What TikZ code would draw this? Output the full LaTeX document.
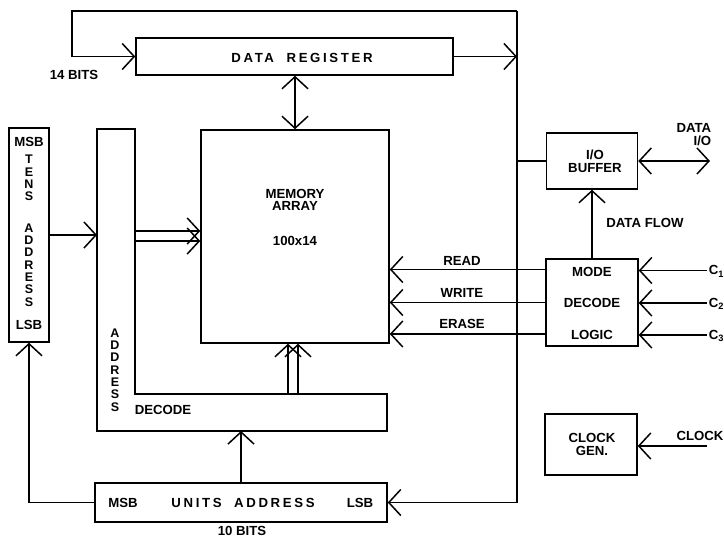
\documentclass[tikz,border=0pt]{standalone}
\usepackage{fontspec}
\setmainfont{Liberation Sans}
\usetikzlibrary{arrows.meta,calc}
\begin{document}
\begin{tikzpicture}[x=1pt,y=-1pt,line width=1.5pt,
  lbl/.style={font=\fontsize{13.2}{12.5}\selectfont\bfseries, inner sep=0pt, align=center},
  vlbl/.style={font=\fontsize{12.5}{12.3}\selectfont\bfseries, inner sep=0pt, align=center},
  sp/.style={font=\fontsize{13.2}{12.5}\selectfont\bfseries\addfontfeature{LetterSpace=20}, inner sep=0pt},
  blk/.style={draw, inner sep=0pt},
  arr/.style={-{Straight Barb[length=12pt,width=26pt,line width=1.5pt]}},
  darr/.style={{Straight Barb[length=12pt,width=26pt,line width=1.5pt]}-{Straight Barb[length=12pt,width=26pt,line width=1.5pt]}}]
\useasboundingbox (0,0) rectangle (724,538);

% blocks
\node[blk, minimum width=317pt, minimum height=37pt] (dreg) at (294.5,56.5) {};
\node[blk, minimum width=188pt, minimum height=213pt] (mem) at (295,236.5) {};
\node[blk, minimum width=40pt, minimum height=214pt] (tens) at (29,235) {};
\node[blk, minimum width=292pt, minimum height=39pt] (units) at (241,502.5) {};
\node[blk, minimum width=91pt, minimum height=56pt] (iobuf) at (592,161) {};
\node[blk, minimum width=92pt, minimum height=87pt] (mode) at (592,302.5) {};
\node[blk, minimum width=92pt, minimum height=61pt] (clock) at (591,444.5) {};

% address decode L-shape
\coordinate (dnw) at (97,129);
\coordinate (dne) at (135,129);
\coordinate (din) at (135,394);
\coordinate (dre) at (387,394);
\coordinate (dse) at (387,431);
\coordinate (dsw) at (97,431);
\draw (dnw) -- (dne) -- (din) -- (dre) -- (dse) -- (dsw) -- cycle;

% bus and loop
\coordinate (bustop) at (517,11);
\coordinate (loopL) at (72,11);
\draw[arr] (bustop) -- (loopL) |- (dreg.west);
\draw[arr] (dreg.east) -- (dreg.east -| bustop);
\draw[arr] (bustop) -- (bustop |- units.east) -- (units.east);
\draw (bustop |- iobuf.west) -- (iobuf.west);
\coordinate (dataio) at (710,161);
\draw[darr] (iobuf.east) -- (dataio);
\draw[darr] (mem.north |- dreg.south) -- (mem.north);

% address paths
\draw[arr] (tens.east) -- (tens.east -| dnw);
\coordinate (m1) at ($(mem.west)+(0,-5.5)$);
\coordinate (m2) at ($(mem.west)+(0,4.5)$);
\draw[arr] (m1 -| din) -- (m1);
\draw[arr] (m2 -| din) -- (m2);
\coordinate (mb1) at ($(mem.south)+(-7,0)$);
\coordinate (mb2) at ($(mem.south)+(3,0)$);
\draw[arr] (mb1 |- din) -- (mb1);
\draw[arr] (mb2 |- din) -- (mb2);
\draw[arr] (units.north) -- (units.north |- dsw);
\draw[arr] (units.west) -| (tens.south);

% mode decode logic
\draw[arr] (mode.north) -- (iobuf.south);
\coordinate (r1) at ($(mode.west)+(0,-33)$);
\coordinate (r2) at ($(mode.west)+(0,0)$);
\coordinate (r3) at ($(mode.west)+(0,31.5)$);
\draw[arr] (r1) -- (r1 -| mem.east);
\draw[arr] (r2) -- (r2 -| mem.east);
\draw[arr] (r3) -- (r3 -| mem.east);
\coordinate (c1) at (707,270.5);
\coordinate (c2) at (707,303);
\coordinate (c3) at (707,335);
\draw[arr] (c1) -- (c1 -| mode.east);
\draw[arr] (c2) -- (c2 -| mode.east);
\draw[arr] (c3) -- (c3 -| mode.east);
\coordinate (clkin) at (707,446);
\draw[arr] (clkin) -- (clkin -| clock.east);

% labels
\node[sp] (tdreg) at (302,58) {DATA\ \ REGISTER};
\node[lbl] (t14) at (74,75) {14 BITS};
\node[lbl] (tmem) at (295,200) {MEMORY\\ARRAY};
\node[lbl] (tsize) at (295,241) {100x14};
\node[lbl] (tmsb1) at (29,142) {MSB};
\node[vlbl] (ttens) at (29,178) {T\\E\\N\\S};
\node[vlbl] (taddr1) at (29,265) {A\\D\\D\\R\\E\\S\\S};
\node[lbl] (tlsb1) at (29,325) {LSB};
\node[vlbl] (taddr2) at (115,370) {A\\D\\D\\R\\E\\S\\S};
\node[lbl] (tdec) at (163,410) {DECODE};
\node[lbl] (tmsb2) at (123,503) {MSB};
\node[sp] (tunits) at (243,503) {UNITS\ \ ADDRESS};
\node[lbl] (tlsb2) at (360,503) {LSB};
\node[lbl] (t10) at (242,531) {10 BITS};
\node[lbl] (tio) at (595,161.5) {I/O\\BUFFER};
\node[lbl, align=right, anchor=east] (tdio) at (712,134.5) {DATA\\I/O};
\node[lbl] (tflow) at (645,223) {DATA FLOW};
\node[lbl] (tmode) at (592,272) {MODE};
\node[lbl] (tdecode) at (592,303) {DECODE};
\node[lbl] (tlogic) at (592,335) {LOGIC};
\node[lbl] (tread) at (462,261) {READ};
\node[lbl] (twrite) at (462,293) {WRITE};
\node[lbl] (terase) at (462,324) {ERASE};
\node[lbl, anchor=west] (tc1) at ($(c1)+(1,1)$) {C\textsubscript{1}};
\node[lbl, anchor=west] (tc2) at ($(c2)+(1,1)$) {C\textsubscript{2}};
\node[lbl, anchor=west] (tc3) at ($(c3)+(1,1)$) {C\textsubscript{3}};
\node[lbl] (tclk) at (592,444.5) {CLOCK\\GEN.};
\node[lbl] (tclkin) at (700,436) {CLOCK};
\end{tikzpicture}
\end{document}
